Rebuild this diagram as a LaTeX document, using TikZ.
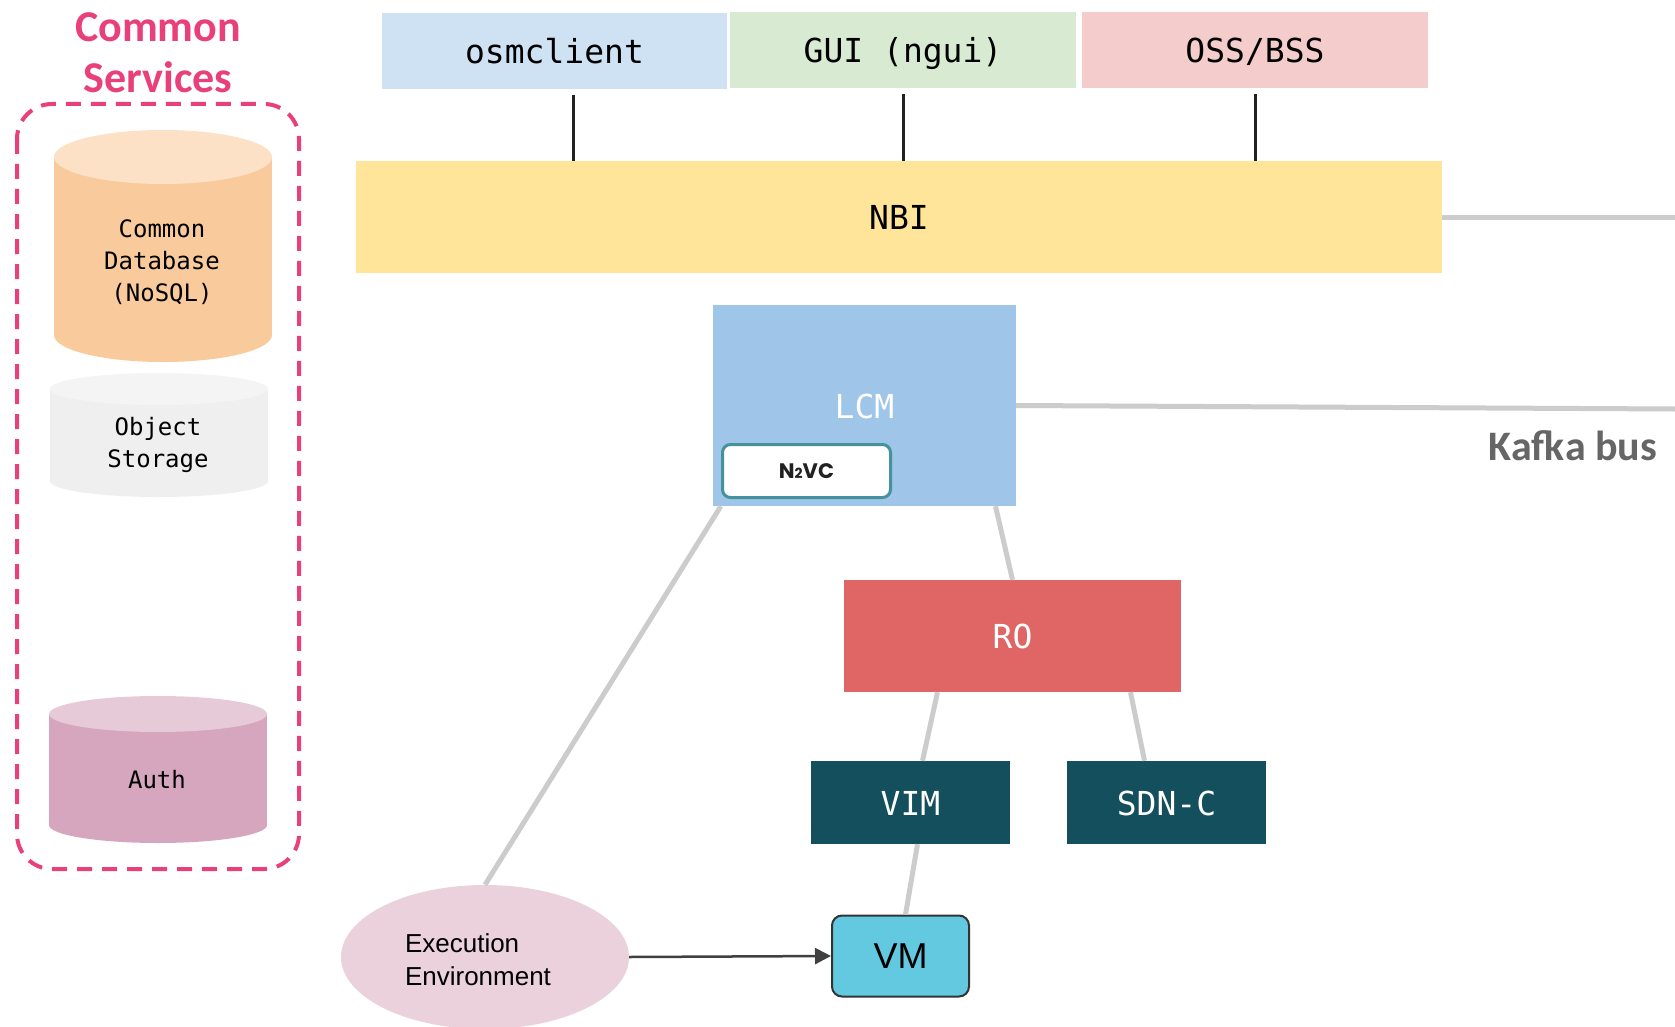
\documentclass[tikz,border=0pt]{standalone}
\usepackage{fontspec}
\usetikzlibrary{shapes.geometric,arrows.meta}
\newfontfamily\codefont{DejaVu Sans Mono}
\newfontfamily\calfont{Carlito}
\newfontfamily\arialfont{Liberation Sans}
\newfontfamily\popfont{Poppins}
\definecolor{cspink}{HTML}{E9407A}
\definecolor{dbbody}{HTML}{F9CB9C}
\definecolor{dbtop}{HTML}{FCE1C6}
\definecolor{objbody}{HTML}{EFEFEF}
\definecolor{objtop}{HTML}{F4F4F4}
\definecolor{authbody}{HTML}{D5A6BD}
\definecolor{authtop}{HTML}{E7CAD8}
\definecolor{osmblue}{HTML}{CFE2F3}
\definecolor{guigreen}{HTML}{D9EAD3}
\definecolor{ossred}{HTML}{F4CCCC}
\definecolor{nbiyellow}{HTML}{FFE599}
\definecolor{lcmblue}{HTML}{9FC5E8}
\definecolor{rored}{HTML}{E06666}
\definecolor{vimteal}{HTML}{134F5C}
\definecolor{vmcyan}{HTML}{62C9E0}
\definecolor{n2vcteal}{HTML}{45919E}
\definecolor{eepink}{HTML}{EAD1DC}
\definecolor{busgray}{HTML}{CCCCCC}
\definecolor{kafkagray}{HTML}{666666}
\begin{document}
\begin{tikzpicture}[x=1pt,y=-1pt,
    module/.style={rectangle,inner sep=0pt,text height=27pt,text depth=2pt,font=\codefont\fontsize{33}{38}\selectfont},
    storetext/.style={inner sep=0pt,align=center,font=\codefont\fontsize{24}{32}\selectfont},
    conn/.style={draw=black!87,line width=3pt,shorten <=6pt},
    bus/.style={draw=busgray,line width=5pt}]
    \path[use as bounding box,fill=white] (0,0) rectangle (1675,1027);

    % common services
    \node[inner sep=0pt,anchor=north,align=center,text=cspink,font=\calfont\bfseries\fontsize{44}{51}\selectfont] (cstitle) at (158,12) {Common\\Services};
    \draw[cspink,line width=4pt,dash pattern=on 15pt off 10pt,rounded corners=35pt] (17,104) rectangle (299,869);
    \foreach \xc/\yt/\yb/\ry/\body/\capc in {163/157/335/27/dbbody/dbtop, 159/389/481/16/objbody/objtop, 158/714/825/18/authbody/authtop}{
        \fill[\body] (\xc-109,\yt) rectangle (\xc+109,\yb);
        \fill[\body] (\xc,\yb) ellipse [x radius=109,y radius=\ry];
        \fill[\capc] (\xc,\yt) ellipse [x radius=109,y radius=\ry];
    }
    \node[storetext] (dbtext) at (162,262) {Common\\Database\\(NoSQL)};
    \node[storetext] (objtext) at (158,445) {Object\\Storage};
    \node[storetext] (authtext) at (157,780) {Auth};

    % clients and NBI
    \node[module,fill=osmblue,minimum width=345,minimum height=76] (osm) at (554.5,51) {osmclient};
    \node[module,fill=guigreen,minimum width=346,minimum height=76] (gui) at (903,50) {GUI (ngui)};
    \node[module,fill=ossred,minimum width=346,minimum height=76] (oss) at (1255,50) {OSS/BSS};
    \node[module,fill=nbiyellow,minimum width=1086,minimum height=112] (nbi) at (899,217) {NBI};
    \draw[conn] ([xshift=19]osm.south) -- ([xshift=19]osm.south |- nbi.north);
    \foreach \n in {gui,oss}
        \draw[conn] (\n.south) -- (\n.south |- nbi.north);

    % LCM, RO and below
    \node[module,fill=lcmblue,text=white,minimum width=303,minimum height=201] (lcm) at (864.5,405.5) {LCM};
    \node[draw=n2vcteal,line width=3pt,fill=white,rounded corners=8pt,minimum width=168,minimum height=53,inner sep=0pt,text=black!87,font=\popfont\bfseries\fontsize{21}{24}\selectfont] (n2vc) at (806.5,471) {N{\fontsize{14}{14}\selectfont 2}VC};
    \node[module,fill=rored,text=white,minimum width=337,minimum height=112] (ro) at (1012.5,636) {RO};
    \node[module,fill=vimteal,text=white,minimum width=199,minimum height=83] (vim) at (910.5,802.5) {VIM};
    \node[module,fill=vimteal,text=white,minimum width=199,minimum height=83] (sdnc) at (1166.5,802.5) {SDN-C};
    \node[draw=black!80,line width=2pt,fill=vmcyan,rounded corners=10pt,minimum width=137,minimum height=81,inner sep=0pt,font=\arialfont\fontsize{36}{40}\selectfont] (vm) at (900.5,956) {VM};
    \node[ellipse,fill=eepink,minimum width=288,minimum height=144,inner sep=0pt] (exec) at (485,957) {};
    \node[inner sep=0pt,align=left,font=\arialfont\fontsize{26}{33}\selectfont] (exectext) at (478,960) {Execution\\Environment};

    \coordinate (kafkaA) at (1675,217);
    \coordinate (kafkaB) at (1675,409);
    \draw[bus] (nbi.east) -- (kafkaA);
    \draw[bus] (lcm.east) -- (kafkaB);
    \node[inner sep=0pt,anchor=base,text=kafkagray,font=\calfont\bfseries\fontsize{42}{46}\selectfont] (kafka) at (1573,460) {Kafka bus};

    \draw[bus] ([xshift=131]lcm.south) -- (ro.north);
    \draw[bus] ([xshift=-75]ro.south) -- ([xshift=12]vim.north);
    \draw[bus] ([xshift=118]ro.south) -- ([xshift=-22]sdnc.north);
    \draw[bus] ([xshift=7]vim.south) -- ([xshift=5]vm.north);
    \draw[bus] ([xshift=8]lcm.south west) -- (exec.north);
    \draw[draw=black!75,line width=2.5pt,-{Triangle[length=16pt,width=16pt]}] (exec.east) -- (vm.west);
\end{tikzpicture}
\end{document}
